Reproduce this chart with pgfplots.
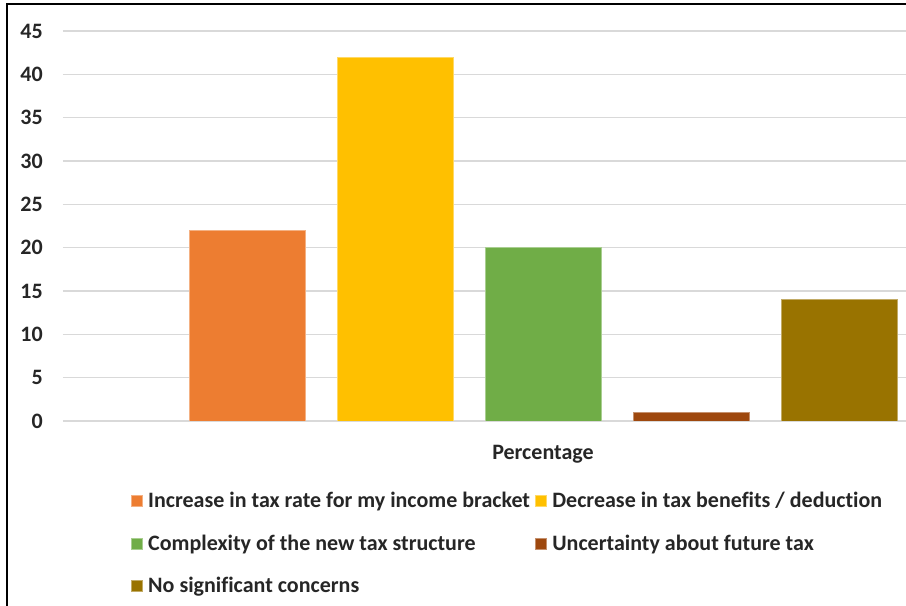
\documentclass[border=0pt]{standalone}
\usepackage{fontspec}
\setmainfont[Ligatures={NoCommon,NoContextual}]{Carlito}
\usepackage{pgfplots}
\pgfplotsset{compat=1.18}
\definecolor{cOrange}{HTML}{ED7D31}
\definecolor{cYellow}{HTML}{FFC000}
\definecolor{cGreen}{HTML}{70AD47}
\definecolor{cBrown}{HTML}{9E480E}
\definecolor{cOlive}{HTML}{997300}
\definecolor{gridgray}{HTML}{D9D9D9}
\definecolor{txt}{HTML}{262626}
\begin{document}
\begin{tikzpicture}
\useasboundingbox (0,0) rectangle (679.5pt,454.5pt);
\begin{axis}[
 at={(47.25pt,138.75pt)}, anchor=south west,
 scale only axis, width=632.25pt, height=292.5pt,
 xmin=63, xmax=906, ymin=0, ymax=45,
 ybar, bar width=116,
 every axis plot/.append style={bar shift=0pt,
   legend image code/.code={\fill[##1] (0pt,-4.1pt) rectangle (8.2pt,4.1pt); \path[draw=none,fill=none] (0pt,0pt) -- (10.5pt,0pt);}},
 ytick={0,5,...,45}, xtick={543}, xticklabels={Percentage},
 /pgf/number format/assume math mode=true,
 ymajorgrids, grid style={gridgray, line width=1.1pt},
 axis x line*=bottom, axis y line*=left,
 x axis line style={gridgray, line width=1.1pt, -},
 y axis line style={draw=none},
 major tick length=0pt,
 tick style={draw=none},
 font=\fontsize{16.5pt}{19pt}\selectfont\bfseries,
 yticklabel style={font=\fontsize{16.5pt}{19pt}\selectfont\bfseries, text=txt, inner sep=0pt, xshift=-15pt},
 xticklabel style={font=\fontsize{16.5pt}{19pt}\selectfont\bfseries, text=txt, inner sep=0pt, yshift=-18pt},
 legend columns=2,
 legend cell align=left,
 legend style={at={(0,0)}, xshift=51pt, yshift=-51pt, anchor=north west, draw=none, inner sep=0pt,
   row sep=15pt, text=txt, font=\fontsize{16.5pt}{19pt}\selectfont\bfseries,
   /tikz/every even column/.append style={column sep=2pt}},
]
\addplot[fill=cOrange, draw=cOrange!60!white] coordinates {(247,22)};
\addlegendentry{Increase in tax rate for my income bracket}
\addplot[fill=cYellow, draw=cYellow!60!white] coordinates {(395,42)};
\addlegendentry{Decrease in tax benefits / deduction}
\addplot[fill=cGreen, draw=cGreen!60!white] coordinates {(543,20)};
\addlegendentry{Complexity of the new tax structure}
\addplot[fill=cBrown, draw=cBrown!60!white] coordinates {(691,1)};
\addlegendentry{Uncertainty about future tax}
\addplot[fill=cOlive, draw=cOlive!60!white] coordinates {(839,14)};
\addlegendentry{No significant concerns}
\end{axis}
\draw[line width=1.5pt] (5.25pt,0) -- (5.25pt,451.5pt) -- (679.5pt,451.5pt);
\end{tikzpicture}
\end{document}
